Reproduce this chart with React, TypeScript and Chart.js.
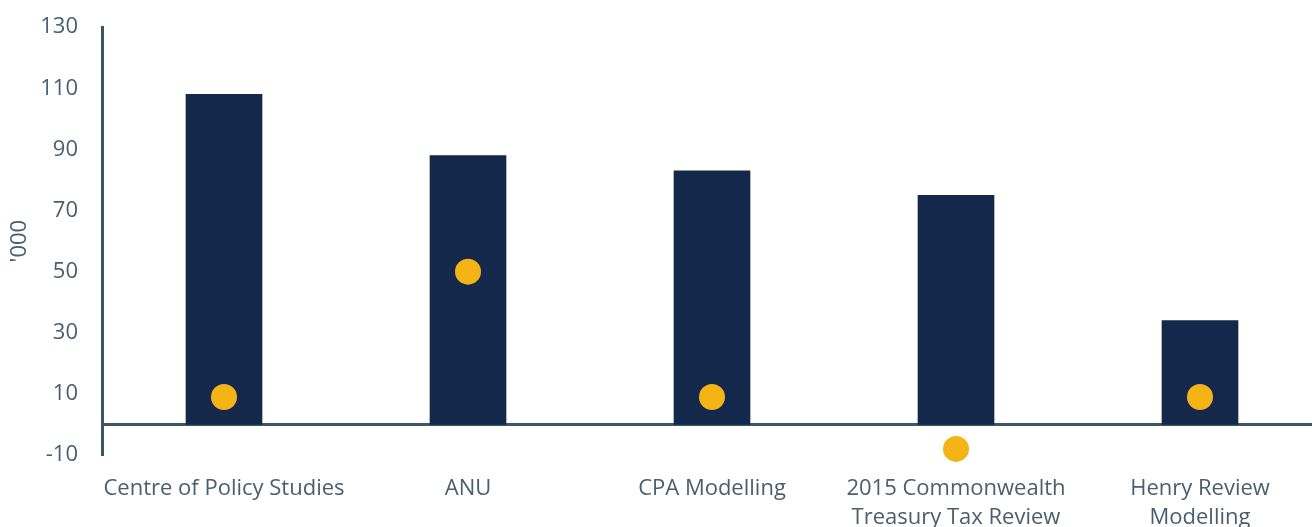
import React, { useEffect, useRef } from "react";
import { Chart, registerables } from "chart.js";

Chart.register(...registerables);

const categories: (string | string[])[] = [
  "Centre of Policy Studies",
  "ANU",
  "CPA Modelling",
  ["2015 Commonwealth", "Treasury Tax Review"],
  ["Henry Review", "Modelling"],
];
const barValues = [108, 88, 83, 75, 34];
const dotValues = [9, 50, 9, -8, 9];
const yMin = -10;
const yMax = 130;
const yStep = 20;
const yTitle = "'000";

const BAR = "#14284B";
const DOT = "#F5B415";
const AXIS = "#3E5565";
const TEXT = "#4A5E6E";

const zeroLine = {
  id: "zeroLine",
  beforeDatasetsDraw(chart: any) {
    const { ctx, chartArea, scales } = chart;
    const y = scales.y.getPixelForValue(0);
    ctx.save();
    ctx.strokeStyle = AXIS;
    ctx.lineWidth = 3;
    ctx.beginPath();
    ctx.moveTo(chartArea.left, y);
    ctx.lineTo(chart.width, y);
    ctx.stroke();
    ctx.restore();
  },
};

export default function App() {
  const ref = useRef<HTMLCanvasElement | null>(null);
  useEffect(() => {
    if (!ref.current) return;
    const chart = new Chart(ref.current, {
      type: "bar",
      data: {
        labels: categories,
        datasets: [
          {
            type: "line",
            data: dotValues,
            showLine: false,
            clip: false,
            pointRadius: 13,
            pointHoverRadius: 13,
            pointBackgroundColor: DOT,
            pointBorderColor: DOT,
            pointBorderWidth: 0,
            order: 0,
          } as any,
          {
            type: "bar",
            data: barValues,
            backgroundColor: BAR,
            barThickness: 76,
            order: 1,
          },
        ],
      },
      options: {
        animation: false,
        responsive: false,
        maintainAspectRatio: false,
        layout: { padding: { top: 16, left: 0, right: 0, bottom: 0 } },
        plugins: { legend: { display: false }, tooltip: { enabled: false } },
        scales: {
          x: {
            offset: true,
            grid: { display: false, drawTicks: false },
            border: { display: false },
            ticks: {
              color: TEXT,
              font: { family: "'Open Sans'", size: 22, lineHeight: 1.32 },
              padding: 19,
              maxRotation: 0,
              autoSkip: false,
            },
            afterFit: (s: any) => {
              s.height = 90;
            },
          },
          y: {
            min: yMin,
            max: yMax,
            ticks: {
              stepSize: yStep,
              color: TEXT,
              font: { family: "'Open Sans'", size: 22 },
              padding: 24,
            },
            grid: { display: false, drawTicks: false },
            border: { display: true, color: AXIS, width: 3 },
            title: {
              display: true,
              text: yTitle,
              color: TEXT,
              font: { family: "'Open Sans'", size: 22 },
              padding: { top: 7, bottom: 0 },
            },
            afterFit: (s: any) => {
              s.width = 102;
            },
          },
        },
      },
      plugins: [zeroLine],
    });
    return () => chart.destroy();
  }, []);
  return (
    <div
      style={{
        position: "fixed",
        left: 0,
        top: 0,
        width: 1312,
        height: 527,
        overflow: "hidden",
        background: "#fff",
      }}
    >
      <canvas
        ref={ref}
        width={1335}
        height={555}
        style={{ display: "block", marginTop: -10 }}
      />
    </div>
  );
}
